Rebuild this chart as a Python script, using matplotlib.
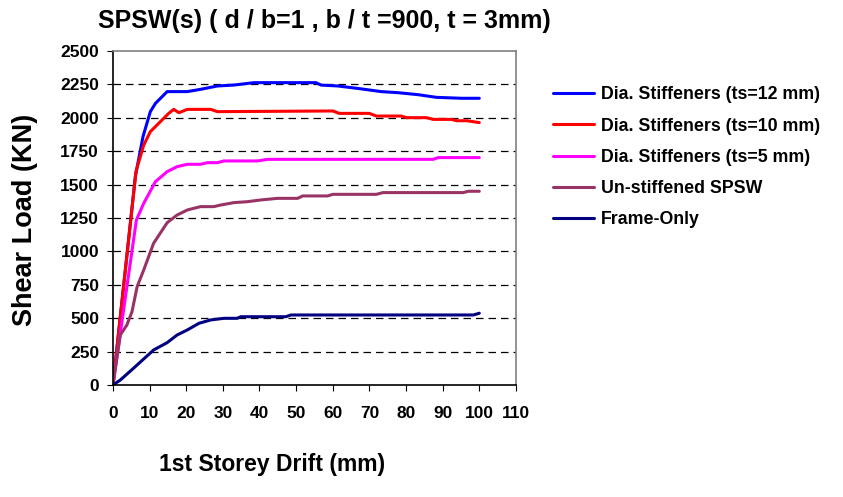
import numpy as np
import matplotlib.pyplot as plt
from matplotlib import rc

rc('font', **{'family': 'sans-serif', 'sans-serif': ['Liberation Sans', 'DejaVu Sans'], 'weight': 'bold'})

x_ts12 = [0, 6.1, 8.2, 10.2, 11.6, 14.8, 20.3, 23.9, 28.5, 33, 38.5, 43.6, 55.4, 56.8, 61.4, 66.8, 73.2, 77.8, 83.3, 88.3, 95.2, 100]
y_ts12 = [0, 1559, 1859, 2046, 2108, 2196, 2196, 2213, 2238, 2245, 2263, 2263, 2263, 2245, 2238, 2220, 2196, 2188, 2173, 2153, 2146, 2146]

x_ts10 = [0, 6.3, 8.4, 10.2, 12.5, 15.2, 16.6, 18, 20.3, 26.7, 28.5, 60, 61.8, 70, 71.9, 78.7, 80.1, 85.6, 87.4, 92.4, 93.8, 96.6, 100]
y_ts10 = [0, 1600, 1796, 1896, 1959, 2033, 2063, 2038, 2063, 2063, 2046, 2051, 2033, 2033, 2013, 2013, 2001, 2001, 1988, 1988, 1978, 1978, 1964]

x_ts5 = [0, 6.4, 8.4, 11.6, 14.8, 17.5, 20.3, 23.9, 25.8, 28.5, 30.3, 39.5, 42.2, 87.4, 88.8, 100]
y_ts5 = [0, 1235, 1360, 1522, 1597, 1634, 1652, 1652, 1664, 1664, 1677, 1677, 1689, 1689, 1702, 1702]

x_unst = [0, 2, 3.8, 5.2, 6.6, 8.4, 11.1, 14.8, 17.5, 20.3, 23.9, 27.5, 29.4, 33, 36.7, 40.4, 44.9, 50.4, 51.8, 58.6, 60, 71.9, 73.7, 95.6, 97, 100]
y_unst = [0, 374, 449, 549, 736, 861, 1061, 1215, 1272, 1310, 1335, 1335, 1347, 1365, 1372, 1385, 1397, 1397, 1415, 1415, 1427, 1427, 1440, 1440, 1450, 1450]

x_frame = [0, 2, 5.6, 11.1, 14.8, 17.5, 20.3, 23.5, 26.7, 30.3, 33.9, 34.9, 47.2, 48.6, 98.4, 100]
y_frame = [0, 37, 125, 262, 317, 374, 412, 462, 487, 499, 499, 511, 511, 524, 524, 537]

labels = ['Dia. Stiffeners (ts=12 mm)', 'Dia. Stiffeners (ts=10 mm)', 'Dia. Stiffeners (ts=5 mm)',
          'Un-stiffened SPSW', 'Frame-Only']
colors = ['#0000ff', '#ff0000', '#ff00ff', '#993366', '#000080']

fig = plt.figure(figsize=(8.43, 4.97), dpi=100)
ax = fig.add_axes([0.134, 0.2254, 0.478, 0.672])

series = [(x_ts12, y_ts12), (x_ts10, y_ts10), (x_ts5, y_ts5), (x_unst, y_unst), (x_frame, y_frame)]
for (xs, ys), lab, c in zip(series, labels, colors):
    ax.plot(xs, ys, color=c, lw=2.2, label=lab, solid_capstyle='round')

ax.set_xlim(0, 110)
ax.set_ylim(0, 2500)
ax.set_xticks(np.arange(0, 111, 10))
ax.set_yticks(np.arange(0, 2501, 250))
ax.tick_params(labelsize=12.5, length=4, direction='out')
ax.tick_params(axis='x', pad=11)
ax.tick_params(axis='y', pad=6)
for lbl in ax.get_xticklabels() + ax.get_yticklabels():
    lbl.set_fontweight('bold')
for y in range(250, 2500, 250):
    ax.axhline(y, color='black', lw=0.9, dashes=(6, 4), zorder=0)
ax.spines['left'].set_color('black')
ax.spines['bottom'].set_color('black')
ax.spines['top'].set_color('#808080')
ax.spines['right'].set_color('#808080')
for s in ax.spines.values():
    s.set_linewidth(1.2)

fig.text(0.385, 0.958, 'SPSW(s) ( d / b=1 , b / t =900, t = 3mm)', fontsize=18, fontweight='bold',
         va='center', ha='center')
fig.text(0.030, 0.557, 'Shear Load (KN)', rotation=90, fontsize=19.5, fontweight='bold', va='center', ha='center')
fig.text(0.323, 0.066, '1st Storey Drift (mm)', fontsize=16.5, fontweight='bold', va='center', ha='center')

fig.legend(loc='upper left', bbox_to_anchor=(0.656, 0.826), frameon=False,
           handlelength=2.3, labelspacing=0.8, handletextpad=0.4, borderpad=0, borderaxespad=0,
           prop={'weight': 'bold', 'size': 12.8})

fig.savefig('out.png', dpi=100)
